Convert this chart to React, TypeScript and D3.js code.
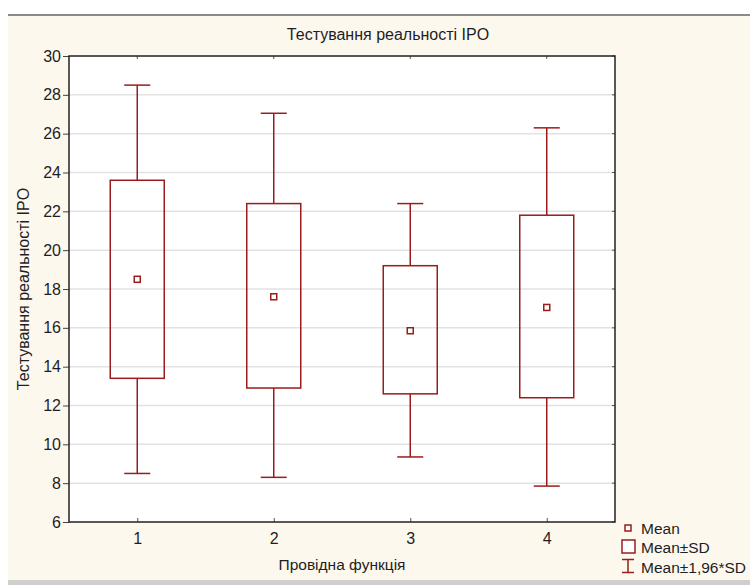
import React, { useEffect, useRef } from "react";
import * as d3 from "d3";

// groups on the x axis
const groups = ["1", "2", "3", "4"];
const means = [18.5, 17.6, 15.85, 17.05];
const sdLow = [13.4, 12.9, 12.6, 12.4];
const sdHigh = [23.6, 22.4, 19.2, 21.8];
const ciLow = [8.5, 8.3, 9.35, 7.85];
const ciHigh = [28.5, 27.05, 22.4, 26.3];
const yTicks = [6, 8, 10, 12, 14, 16, 18, 20, 22, 24, 26, 28, 30];
const legendItems = ["Mean", "Mean±SD", "Mean±1,96*SD"];

const RED = "#9a1c1c";
const INK = "#1e1e24";
const FONT = "'Liberation Sans', Arial, sans-serif";

export default function App() {
    const ref = useRef<HTMLDivElement>(null);

    useEffect(() => {
        const container = d3.select(ref.current);
        container.selectAll("*").remove();
        const width = 750;
        const height = 585;
        const plot = { left: 69, top: 56, right: 615, bottom: 522 };

        const svg = container.append("svg").attr("width", width).attr("height", height)
            .style("position", "absolute").style("left", 0).style("top", 0)
            .style("font-family", FONT);

        // background
        svg.append("rect").attr("x", 0).attr("y", 0).attr("width", width).attr("height", height).attr("fill", "#fff");
        svg.append("rect").attr("x", 8).attr("y", 15).attr("width", width - 8).attr("height", 566).attr("fill", "#fdf8ee");
        svg.append("rect").attr("x", 8).attr("y", 14).attr("width", width - 8).attr("height", 2).attr("fill", "#8a8a8a");
        svg.append("rect").attr("x", 8).attr("y", 580).attr("width", width - 8).attr("height", 5).attr("fill", "#cfcfcf");

        const x = d3.scaleLinear().domain([0.5, 4.5]).range([plot.left, plot.right]);
        const y = d3.scaleLinear().domain([6, 30]).range([plot.bottom, plot.top]);

        svg.append("rect").attr("x", plot.left).attr("y", plot.top)
            .attr("width", plot.right - plot.left).attr("height", plot.bottom - plot.top).attr("fill", "#fff");

        // grid
        svg.append("g").selectAll("line").data(yTicks.slice(1, -1)).join("line")
            .attr("x1", plot.left).attr("x2", plot.right)
            .attr("y1", (d) => y(d)).attr("y2", (d) => y(d))
            .attr("stroke", "#e2e2e2").attr("stroke-width", 1.5);

        // y axis
        const yAxis = svg.append("g").attr("transform", `translate(${plot.left},0)`)
            .call(d3.axisLeft(y).tickValues(yTicks).tickSize(6).tickPadding(2));
        yAxis.select(".domain").remove();
        yAxis.selectAll(".tick line").attr("stroke", "#444");
        yAxis.selectAll("text").attr("font-size", 16).attr("font-family", FONT).attr("fill", INK);

        // right small ticks
        svg.append("g").selectAll("line").data(yTicks).join("line")
            .attr("x1", plot.right - 3).attr("x2", plot.right)
            .attr("y1", (d) => y(d)).attr("y2", (d) => y(d)).attr("stroke", "#555");

        // x axis (ticks inside)
        const xAxis = svg.append("g").attr("transform", `translate(0,${plot.bottom})`)
            .call(d3.axisBottom(x).tickValues([1, 2, 3, 4]).tickFormat((d, i) => groups[i]).tickSize(-4).tickPadding(11));
        xAxis.select(".domain").remove();
        xAxis.selectAll(".tick line").attr("stroke", "#555");
        xAxis.selectAll("text").attr("font-size", 16).attr("font-family", FONT).attr("fill", INK);
        svg.append("g").selectAll("line").data([1, 2, 3, 4]).join("line")
            .attr("x1", (d) => x(d)).attr("x2", (d) => x(d))
            .attr("y1", plot.top).attr("y2", plot.top + 3).attr("stroke", "#555");

        // frame
        svg.append("rect").attr("x", plot.left).attr("y", plot.top)
            .attr("width", plot.right - plot.left).attr("height", plot.bottom - plot.top)
            .attr("fill", "none").attr("stroke", "#222").attr("stroke-width", 1.5);

        const items = groups.map((g, i) => ({ i: i + 1, mean: means[i], lo: sdLow[i], hi: sdHigh[i], cLo: ciLow[i], cHi: ciHigh[i] }));
        const boxW = 54;
        const capW = 26;
        const b = svg.append("g").selectAll("g").data(items).join("g");

        b.append("line").attr("x1", (d) => x(d.i)).attr("x2", (d) => x(d.i))
            .attr("y1", (d) => y(d.cHi)).attr("y2", (d) => y(d.hi)).attr("stroke", RED).attr("stroke-width", 1.5);
        b.append("line").attr("x1", (d) => x(d.i)).attr("x2", (d) => x(d.i))
            .attr("y1", (d) => y(d.lo)).attr("y2", (d) => y(d.cLo)).attr("stroke", RED).attr("stroke-width", 1.5);
        b.append("line").attr("x1", (d) => x(d.i) - capW / 2).attr("x2", (d) => x(d.i) + capW / 2)
            .attr("y1", (d) => y(d.cHi)).attr("y2", (d) => y(d.cHi)).attr("stroke", RED).attr("stroke-width", 1.5);
        b.append("line").attr("x1", (d) => x(d.i) - capW / 2).attr("x2", (d) => x(d.i) + capW / 2)
            .attr("y1", (d) => y(d.cLo)).attr("y2", (d) => y(d.cLo)).attr("stroke", RED).attr("stroke-width", 1.5);
        b.append("rect").attr("x", (d) => x(d.i) - boxW / 2).attr("width", boxW)
            .attr("y", (d) => y(d.hi)).attr("height", (d) => y(d.lo) - y(d.hi))
            .attr("fill", "none").attr("stroke", RED).attr("stroke-width", 1.5);
        b.append("rect").attr("x", (d) => x(d.i) - 3).attr("y", (d) => y(d.mean) - 3)
            .attr("width", 6).attr("height", 6).attr("fill", "#fff").attr("stroke", RED).attr("stroke-width", 1.5);

        // titles
        svg.append("text").attr("x", 388).attr("y", 40).attr("text-anchor", "middle")
            .attr("font-size", 16).attr("fill", INK).text("Тестування реальності IPO");
        svg.append("text").attr("x", 342).attr("y", 570).attr("text-anchor", "middle")
            .attr("font-size", 15.5).attr("fill", INK).text("Провідна функція");
        svg.append("text").attr("transform", `translate(29,${(plot.top + plot.bottom) / 2}) rotate(-90)`)
            .attr("text-anchor", "middle").attr("font-size", 16).attr("fill", INK).text("Тестування реальності IPO");

        // legend
        const lg = svg.append("g").attr("transform", "translate(628,0)");
        lg.append("rect").attr("x", -3).attr("y", 525).attr("width", 6).attr("height", 6)
            .attr("fill", "#fff").attr("stroke", RED).attr("stroke-width", 1.5);
        lg.append("rect").attr("x", -6).attr("y", 540).attr("width", 13).attr("height", 13)
            .attr("fill", "#fff").attr("stroke", RED).attr("stroke-width", 1.5);
        lg.append("path").attr("d", "M-6,559.5H6M0,559.5V572.5M-6,572.5H6")
            .attr("fill", "none").attr("stroke", RED).attr("stroke-width", 1.5);
        lg.selectAll("text").data(legendItems).join("text")
            .attr("x", 13).attr("y", (d, i) => 533.5 + i * 19.5)
            .attr("font-size", 15.5).attr("fill", INK).text((d) => d);
    }, []);

    return <div ref={ref} style={{ width: 750, height: 585 }}></div>;
}
